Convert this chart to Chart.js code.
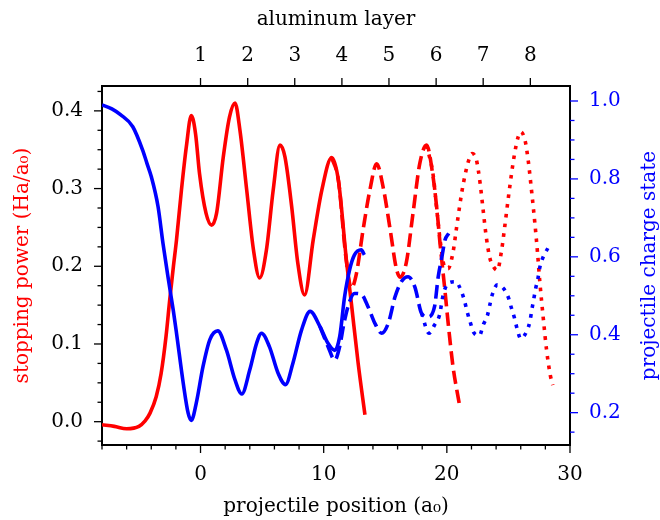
<!DOCTYPE html>
<html>
<head>
<meta charset="utf-8">
<script src="https://cdn.jsdelivr.net/npm/chart.js@4.4.1/dist/chart.umd.min.js"></script>
<style>
  body { margin: 0; background: #fff; }
  #wrap { width: 660px; height: 520px; }
</style>
</head>
<body>
<div id="wrap"><canvas id="chart" width="660" height="520"></canvas></div>
<script>
// stopping power (Ha/a0), three runs: solid / dashed / dotted
const spSolidX = [-8, -7, -6, -5, -4.5, -4.1, -3.6, -3.2, -2.8, -2.5, -2.2, -1.95, -1.55, -1.15, -0.75, -0.4, -0.08, 0.45, 0.9, 1.3, 1.85, 2.35, 2.8, 3.2, 3.75, 4.3, 4.8, 5.35, 5.9, 6.45, 6.85, 7.4, 7.9, 8.45, 9.15, 9.85, 10.65, 11.2, 11.85, 12.25, 12.8, 13.35]
const spSolidY = [-0.004, -0.006, -0.009, -0.006, 0.001, 0.011, 0.032, 0.062, 0.11, 0.157, 0.2, 0.234, 0.298, 0.354, 0.394, 0.37, 0.319, 0.268, 0.253, 0.268, 0.341, 0.392, 0.41, 0.375, 0.298, 0.221, 0.185, 0.221, 0.298, 0.356, 0.341, 0.277, 0.204, 0.163, 0.234, 0.298, 0.34, 0.31, 0.207, 0.152, 0.075, 0.009]

const spDashX = [10.65, 11.2, 11.8, 12.25, 12.65, 13.2, 13.75, 14.3, 14.85, 15.4, 15.9, 16.2, 16.7, 17.25, 17.8, 18.35, 18.9, 19.2, 19.45, 19.85, 20.1, 20.5, 21.0]
const spDashY = [0.34, 0.31, 0.212, 0.172, 0.19, 0.247, 0.298, 0.332, 0.3, 0.247, 0.197, 0.186, 0.204, 0.268, 0.332, 0.356, 0.313, 0.272, 0.229, 0.168, 0.128, 0.071, 0.024]

const spDotX = [18.35, 18.9, 19.2, 19.5, 19.8, 20.1, 20.5, 20.8, 21.2, 21.5, 21.75, 22.05, 22.4, 22.7, 22.95, 23.2, 23.5, 23.8, 24.1, 24.45, 24.7, 25.0, 25.25, 25.5, 25.8, 26.0, 26.35, 26.6, 26.9, 27.15, 27.35, 27.55, 27.85, 28.1, 28.4, 28.6]
const spDotY = [0.356, 0.316, 0.27, 0.228, 0.2, 0.197, 0.218, 0.251, 0.294, 0.319, 0.335, 0.345, 0.337, 0.307, 0.272, 0.238, 0.21, 0.199, 0.195, 0.221, 0.251, 0.289, 0.319, 0.345, 0.367, 0.373, 0.362, 0.337, 0.294, 0.255, 0.22, 0.18, 0.13, 0.092, 0.06, 0.047]

// projectile charge state, same three runs
const qSolidX = [-8, -7.2, -6.5, -5.5, -4.7, -4.35, -4.0, -3.45, -3.05, -2.65, -2.2, -1.95, -1.4, -1.0, -0.75, -0.35, 0.2, 0.75, 1.4, 2.1, 2.8, 3.35, 4.0, 4.55, 4.95, 5.6, 6.3, 6.9, 7.5, 8.2, 8.9, 9.7, 10.35, 10.9, 11.3, 11.7, 12.1, 12.5, 13.05, 13.3]
const qSolidY = [0.99, 0.98, 0.965, 0.934, 0.874, 0.84, 0.806, 0.729, 0.635, 0.55, 0.46, 0.404, 0.275, 0.198, 0.18, 0.224, 0.318, 0.387, 0.41, 0.361, 0.284, 0.248, 0.31, 0.378, 0.404, 0.369, 0.301, 0.272, 0.327, 0.412, 0.46, 0.421, 0.378, 0.36, 0.395, 0.498, 0.566, 0.605, 0.618, 0.605]

const qDashX = [9.7, 10.35, 10.9, 11.3, 11.65, 12.1, 12.5, 13.05, 13.6, 14.15, 14.7, 15.25, 15.8, 16.3, 16.85, 17.4, 17.95, 18.45, 19.0, 19.3, 19.6, 19.85, 20.15]
const qDashY = [0.421, 0.37, 0.335, 0.37, 0.43, 0.485, 0.506, 0.504, 0.472, 0.43, 0.404, 0.43, 0.498, 0.536, 0.549, 0.523, 0.455, 0.446, 0.472, 0.549, 0.6, 0.643, 0.66]

const qDotX = [17.95, 18.55, 19.0, 19.4, 19.7, 20.1, 20.7, 21.2, 21.45, 21.65, 21.9, 22.2, 22.65, 22.95, 23.3, 23.5, 23.7, 24.1, 24.6, 25.0, 25.25, 25.5, 25.7, 26.0, 26.5, 26.75, 26.9, 27.05, 27.2, 27.4, 27.55, 27.8, 28.2]
const qDotY = [0.455, 0.404, 0.425, 0.45, 0.502, 0.532, 0.536, 0.51, 0.485, 0.459, 0.432, 0.405, 0.398, 0.425, 0.45, 0.478, 0.504, 0.528, 0.519, 0.495, 0.468, 0.442, 0.416, 0.39, 0.41, 0.435, 0.464, 0.49, 0.517, 0.545, 0.573, 0.598, 0.622]

// top axis: aluminum layer positions (a0)
const layerPos = [0, 3.83, 7.65, 11.48, 15.3, 19.13, 22.95, 26.78]
const layerLabels = ['1', '2', '3', '4', '5', '6', '7', '8']

// ----------------------------------------------------------------------
const RED = '#ff0000'
const BLUE = '#0000ff'
const font = { family: "'DejaVu Serif', serif", size: 20 }
const LW = 3.6

const pts = (xs, ys) => xs.map((x, i) => ({ x: x, y: ys[i] }))

const line = (xs, ys, color, axis, dash, order) => ({
    data: pts(xs, ys),
    yAxisID: axis,
    borderColor: color,
    borderWidth: LW,
    borderDash: dash,
    borderCapStyle: 'butt',
    pointRadius: 0,
    cubicInterpolationMode: 'monotone',
    fill: false,
    order: order
})

const DASH = [13.5, 6]
const DOT = [LW, 6.2]

const steps = (from, to, step) => {
    const out = []
    for (let k = Math.ceil(from / step - 1e-9); k * step <= to + 1e-9; k++) out.push(Math.round(k * step * 1000) / 1000)
    return out
}

// draws tick marks: long for labelled ticks, short for the others
const tickMarks = {
    id: 'tickMarks',
    afterDraw(chart) {
        const ctx = chart.ctx
        const a = chart.chartArea
        ctx.save()
        ctx.lineWidth = 1.3
        ctx.lineCap = 'butt'
        for (const id of Object.keys(chart.scales)) {
            const s = chart.scales[id]
            ctx.strokeStyle = id === 'y2' ? BLUE : '#000'
            s.ticks.forEach(t => {
                const len = t.label !== '' ? 8 : 4.5
                const p = s.getPixelForValue(t.value)
                ctx.beginPath()
                if (id === 'x') { ctx.moveTo(p, a.bottom); ctx.lineTo(p, a.bottom + len) }
                if (id === 'x2') { ctx.moveTo(p, a.top); ctx.lineTo(p, a.top - len) }
                if (id === 'y') { ctx.moveTo(a.left, p); ctx.lineTo(a.left - len, p) }
                if (id === 'y2') { ctx.moveTo(a.right, p); ctx.lineTo(a.right + len, p) }
                ctx.stroke()
            })
        }
        // right title reads bottom to top
        ctx.fillStyle = BLUE
        ctx.font = font.size + 'px ' + font.family
        ctx.textAlign = 'center'
        ctx.textBaseline = 'middle'
        ctx.translate(650, (a.top + a.bottom) / 2)
        ctx.rotate(-Math.PI / 2)
        ctx.fillText('projectile charge state', 0, 0)
        ctx.restore()
    }
}

const noGrid = { display: false, drawTicks: false }
const frame = { display: true, color: '#000', width: 2 }

const config = {
    type: 'line',
    data: {
        datasets: [
            line(spSolidX, spSolidY, RED, 'y', [], 6),
            line(spDashX, spDashY, RED, 'y', DASH, 5),
            line(spDotX, spDotY, RED, 'y', DOT, 4),
            line(qSolidX, qSolidY, BLUE, 'y2', [], 3),
            line(qDashX, qDashY, BLUE, 'y2', DASH, 2),
            line(qDotX, qDotY, BLUE, 'y2', DOT, 1)
        ]
    },
    options: {
        responsive: false,
        animation: false,
        events: [],
        layout: { padding: 0 },
        plugins: { legend: { display: false }, tooltip: { enabled: false } },
        scales: {
            x: {
                type: 'linear', position: 'bottom', min: -8, max: 30,
                grid: noGrid, border: frame,
                afterBuildTicks: s => { s.ticks = steps(-8, 30, 2).map(v => ({ value: v })) },
                afterFit: s => { s.height = 75 },
                ticks: {
                    autoSkip: false, maxRotation: 0, padding: 18, color: '#000', font: font,
                    callback: v => (Math.round(v) % 10 === 0 ? String(v) : '')
                },
                title: { display: true, text: 'projectile position (a₀)', color: '#000', font: font, padding: { top: 0, bottom: 1 } }
            },
            x2: {
                type: 'linear', position: 'top', min: -8, max: 30,
                grid: noGrid, border: frame,
                afterBuildTicks: s => { s.ticks = layerPos.map(v => ({ value: v })) },
                afterFit: s => { s.height = 86 },
                ticks: {
                    autoSkip: false, maxRotation: 0, padding: 18, color: '#000', font: font,
                    callback: (v, i) => layerLabels[i]
                },
                title: { display: true, text: 'aluminum layer', color: '#000', font: font, padding: { top: 8, bottom: 0 } }
            },
            y: {
                type: 'linear', position: 'left', min: -0.03, max: 0.432,
                grid: noGrid, border: frame,
                afterBuildTicks: s => { s.ticks = steps(-0.03, 0.432, 0.025).map(v => ({ value: v })) },
                afterFit: s => { s.width = 102 },
                ticks: {
                    autoSkip: false, padding: 19, color: '#000', font: font,
                    callback: v => (Math.round(v * 1000) % 100 === 0 ? v.toFixed(1) : '')
                },
                title: { display: true, text: 'stopping power (Ha/a₀)', color: RED, font: font, padding: { top: 11, bottom: 0 } }
            },
            y2: {
                type: 'linear', position: 'right', min: 0.117, max: 1.0385,
                grid: noGrid, border: frame,
                afterBuildTicks: s => { s.ticks = steps(0.117, 1.0385, 0.05).map(v => ({ value: v })) },
                afterFit: s => { s.width = 90 },
                ticks: {
                    autoSkip: false, padding: 19, color: BLUE, font: font,
                    callback: v => (Math.round(v * 100) % 20 === 0 ? v.toFixed(1) : '')
                }
            }
        }
    },
    plugins: [tickMarks]
}

const chart = new Chart(document.getElementById('chart'), config)
</script>
</body>
</html>
